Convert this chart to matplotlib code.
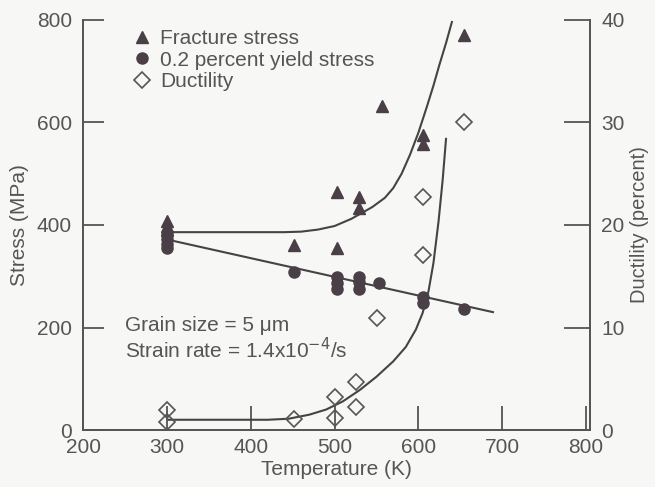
import matplotlib.pyplot as plt

plt.rcParams['font.family'] = ['Liberation Sans', 'DejaVu Sans']

# Datos
frac_T = [300, 300, 300, 452, 503, 503, 529, 529, 557, 605, 605, 655]
frac_S = [408, 398, 390, 361, 464, 355, 455, 433, 632, 575, 558, 771]

yield_T = [300, 300, 300, 300, 452, 503, 503, 503, 529, 529, 529, 553, 605, 605, 655]
yield_S = [382, 372, 362, 355, 308, 298, 286, 276, 298, 288, 276, 287, 259, 248, 236]

duct_T = [300, 300, 452, 500, 500, 526, 526, 551, 605, 605, 654]
duct_P = [2.0, 0.8, 1.1, 3.2, 1.2, 4.7, 2.2, 10.9, 22.7, 17.1, 30.0]

# Curvas ajustadas (puntos leídos a lo largo de cada línea)
frac_fit_T = [302, 400, 440, 460, 480, 500, 520, 545, 560, 570, 580, 590, 600, 610, 618, 625, 633, 640]
frac_fit_S = [386, 386, 386, 387, 391, 398, 412, 435, 453, 472, 500, 537, 580, 630, 672, 712, 755, 796]

yield_fit_T = [302, 689]
yield_fit_S = [371, 230]

duct_fit_T = [302, 420, 445, 470, 490, 510, 530, 550, 570, 585, 597, 605, 612, 618, 624, 629, 633]
duct_fit_P = [1.0, 1.0, 1.1, 1.5, 2.0, 2.8, 3.9, 5.2, 6.7, 8.1, 9.8, 11.4, 13.5, 16.3, 20.3, 24.4, 28.4]

grey = '#555555'
mark = '#4a3f46'

fig = plt.figure(figsize=(6.55, 4.87), dpi=100, facecolor='#f7f7f6')
ax = fig.add_axes([0.127, 0.117, 0.774, 0.842])
ax.set_facecolor('#f7f7f6')
ax2 = ax.twinx()

# Curvas
ax.plot(frac_fit_T, frac_fit_S, color='#444444', lw=1.5)
ax.plot(yield_fit_T, yield_fit_S, color='#444444', lw=1.5)
ax2.plot(duct_fit_T, duct_fit_P, color='#444444', lw=1.5)

# Puntos
h1, = ax.plot(frac_T, frac_S, '^', color=mark, ms=9, ls='none', label='Fracture stress')
h2, = ax.plot(yield_T, yield_S, 'o', color=mark, ms=8, ls='none', label='0.2 percent yield stress')
h3, = ax2.plot(duct_T, duct_P, 'D', mfc='none', mec=grey, mew=1.2, ms=8, ls='none', label='Ductility')

ax.set_xlim(200, 805)
ax.set_ylim(0, 800)
ax2.set_ylim(0, 40)
ax.set_xticks([200, 300, 400, 500, 600, 700, 800])
ax.set_yticks([0, 200, 400, 600, 800])
ax2.set_yticks([0, 10, 20, 30, 40])

for a in (ax, ax2):
    a.spines['top'].set_visible(False)
    for s in a.spines.values():
        s.set_color(grey)
        s.set_linewidth(1.3)

ax.tick_params(axis='y', direction='in', length=15, width=1.3, color=grey,
               labelsize=15, labelcolor=grey, pad=8)
ax.tick_params(axis='x', direction='in', length=17, width=1.3, color=grey,
               labelsize=15, labelcolor=grey, pad=6)
ax2.tick_params(axis='y', direction='in', length=19, width=1.3, color=grey,
                labelsize=15, labelcolor=grey, pad=8)

ax.set_xlabel('Temperature (K)', fontsize=15, color=grey, labelpad=2)
ax.set_ylabel('Stress (MPa)', fontsize=15, color=grey, labelpad=6)
ax2.set_ylabel('Ductility (percent)', fontsize=14.5, color=grey, labelpad=4)

ax.text(0.082, 0.255, 'Grain size = 5 \u03bcm', transform=ax.transAxes,
        fontsize=15, color=grey, va='center')
ax.text(0.082, 0.195, 'Strain rate = 1.4x10$^{\u22124}$/s', transform=ax.transAxes,
        fontsize=15, color=grey, va='center')

leg = ax2.legend(handles=[h1, h2, h3], loc='upper left', bbox_to_anchor=(0.07, 1.008),
                 frameon=False, fontsize=15, handletextpad=0.4, labelspacing=0.12,
                 handlelength=1.0, borderaxespad=0.2)
for t in leg.get_texts():
    t.set_color(grey)

fig.savefig('out.png', dpi=100, facecolor=fig.get_facecolor())
